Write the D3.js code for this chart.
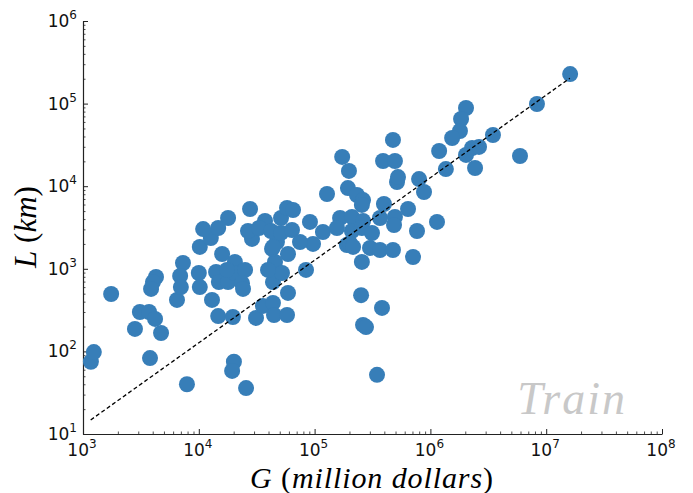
<!DOCTYPE html>
<html>
<head>
<meta charset="utf-8">
<script src="https://cdn.jsdelivr.net/npm/d3@7"></script>
<style>
  body { margin: 0; background: #fff; }
  svg { display: block; }
</style>
</head>
<body>
<svg id="chart" width="693" height="493"></svg>
<script>
// G (million dollars)
const gdp = [1170,1240,1750,2810,3100,3720,4190,4720,3790,7900,
  4270,4020,3870,6480,7300,6900,7000,10000,10200,10200,
  13000,15900,14700,14100,14900,17900,20500,20500,25100,23600,
  24100,19700,20100,19400,25600,31200,35800,43700,44600,57800,
  58900,58900,43700,45500,43700,52300,42900,47300,84300,96900,
  28800,12700,190000,27700,17900,14700,10900,26600,37300,33100,
  42000,51300,57800,65100,51300,63800,43700,17500,39600,173000,
  198000,194000,232000,262000,256000,128000,475000,390000,494000,515000,
  525000,397000,367000,494000,485000,91200,118000,166000,210000,262000,
  156000,210000,256000,313000,74800,202000,215000,301000,367000,475000,
  256000,252000,382000,262000,278000,346000,708000,16100000,8320000,2030000,
  1840000,1800000,1540000,3470000,1190000,2290000,2630000,2030000,5940000,2430000,
  1360000,798000,881000,641000,766000,1140000];
// L (km)
const length = [75,98,495,187,300,300,247,167,83,40,
  796,690,570,420,1175,820,600,890,1840,600,
  420,1510,268,915,690,690,1210,890,970,670,
  570,261,75,58,36,254,355,386,276,276,
  510,1510,915,1210,690,890,1740,2110,970,2000,
  2300,2360,1940,5300,4120,3120,3030,2870,3790,3120,
  2870,4120,5450,5150,2720,2950,1840,970,970,22600,
  15300,9500,7830,6800,5930,8050,36300,20200,20200,11250,
  12900,6090,4120,4240,3390,3690,2790,4120,4240,3790,
  3120,2870,3120,2715,2110,2050,1840,1790,1690,1690,
  1210,480,336,209,197,52,1390,228000,98900,88500,
  65100,46600,38300,41700,26700,29000,29900,23900,23200,16600,
  16100,12200,8510,5300,2870,3690];
// fitted dashed line endpoints
const fitG = [1165, 16000000];
const fitL = [14.8, 203000];
// axis ticks
const xTickExp = [3,4,5,6,7,8];
const yTickExp = [1,2,3,4,5,6];

const svg = d3.select("#chart");
const x = d3.scaleLog().domain([1e3, 1e8]).range([83, 662]);
const y = d3.scaleLog().domain([10, 1e6]).range([434, 21]);

const axisColor = "#222";

function minors(lo, hi) {
  const out = [];
  for (let e = lo; e < hi; e++) for (let m = 2; m <= 9; m++) out.push(m * Math.pow(10, e));
  return out;
}

// minor ticks
svg.append("g").attr("transform", "translate(0,434)")
  .call(d3.axisBottom(x).tickValues(minors(3, 8)).tickSize(-2.5).tickFormat(""))
  .call(g => g.select(".domain").remove())
  .call(g => g.selectAll("line").attr("stroke", axisColor).attr("stroke-width", 0.8));
svg.append("g").attr("transform", "translate(83,0)")
  .call(d3.axisLeft(y).tickValues(minors(1, 6)).tickSize(-2.5).tickFormat(""))
  .call(g => g.select(".domain").remove())
  .call(g => g.selectAll("line").attr("stroke", axisColor).attr("stroke-width", 0.8));

// major ticks + spines
const xAxis = svg.append("g").attr("transform", "translate(0,434)")
  .call(d3.axisBottom(x).tickValues(xTickExp.map(e => Math.pow(10, e))).tickSize(-5).tickSizeOuter(0).tickFormat(""));
const yAxis = svg.append("g").attr("transform", "translate(83,0)")
  .call(d3.axisLeft(y).tickValues(yTickExp.map(e => Math.pow(10, e))).tickSize(-5).tickSizeOuter(0).tickFormat(""));
[xAxis, yAxis].forEach(a => {
  a.select(".domain").attr("stroke", axisColor).attr("stroke-width", 1.2);
  a.selectAll("line").attr("stroke", axisColor).attr("stroke-width", 1);
});

const tickFont = "'DejaVu Sans', sans-serif";
// x tick labels
xTickExp.forEach(e => {
  const t = svg.append("text")
    .attr("x", x(Math.pow(10, e)) - 1).attr("y", 456)
    .attr("text-anchor", "middle")
    .attr("font-family", tickFont).attr("font-size", 17).attr("fill", "#111");
  t.append("tspan").text("10");
  t.append("tspan").attr("font-size", 12).attr("dy", -8).text(e);
});
// y tick labels
yTickExp.forEach(e => {
  const t = svg.append("text")
    .attr("x", 77).attr("y", y(Math.pow(10, e)) + 6)
    .attr("text-anchor", "end")
    .attr("font-family", tickFont).attr("font-size", 17).attr("fill", "#111");
  t.append("tspan").text("10");
  t.append("tspan").attr("font-size", 12).attr("dy", -8).text(e);
});

// points
svg.append("g").selectAll("circle")
  .data(gdp.map((g, i) => [g, length[i]]))
  .join("circle")
  .attr("cx", d => x(d[0]))
  .attr("cy", d => y(d[1]))
  .attr("r", 8)
  .attr("fill", "#377eb8");

// dashed fit line
svg.append("path")
  .datum(fitG.map((g, i) => [g, fitL[i]]))
  .attr("d", d3.line().x(d => x(d[0])).y(d => y(d[1])))
  .attr("stroke", "#000").attr("stroke-width", 1.3)
  .attr("stroke-dasharray", "4,2.6").attr("fill", "none");

// axis labels
const serif = "'Liberation Serif', 'DejaVu Serif', serif";
const xl = svg.append("text")
  .attr("x", 372).attr("y", 488).attr("text-anchor", "middle")
  .attr("font-family", serif).attr("font-size", 30).attr("letter-spacing", 0.9).attr("fill", "#000");
xl.append("tspan").attr("font-style", "italic").text("G");
xl.append("tspan").text(" (");
xl.append("tspan").attr("font-style", "italic").text("million dollars");
xl.append("tspan").text(")");

const yl = svg.append("text")
  .attr("transform", "translate(36,227) rotate(-90)").attr("text-anchor", "middle")
  .attr("font-family", serif).attr("font-size", 31).attr("fill", "#000");
yl.append("tspan").attr("font-style", "italic").text("L");
yl.append("tspan").text(" (");
yl.append("tspan").attr("font-style", "italic").text("km");
yl.append("tspan").text(")");

// watermark
svg.append("text")
  .attr("x", 627).attr("y", 414).attr("text-anchor", "end")
  .attr("font-family", serif).attr("font-style", "italic").attr("letter-spacing", 2)
  .attr("font-size", 46).attr("fill", "#c8c8c8").text("Train");
</script>
</body>
</html>
